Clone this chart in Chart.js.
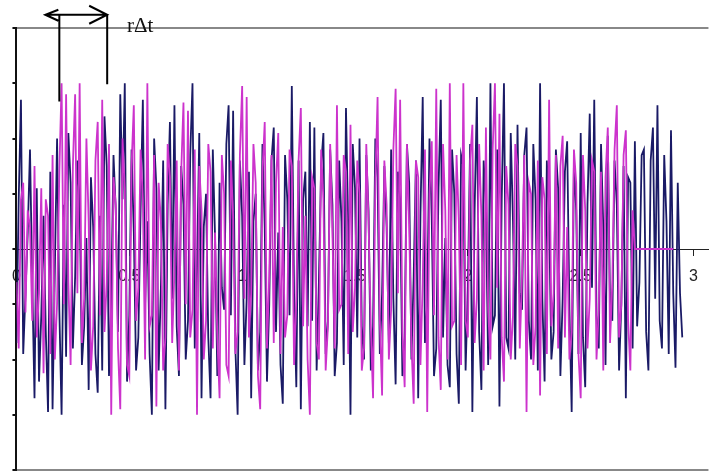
<!DOCTYPE html>
<html>
<head>
<meta charset="utf-8">
<script src="https://cdn.jsdelivr.net/npm/chart.js@4.4.0/dist/chart.umd.min.js"></script>
<style>
  body { margin: 0; background: #fff; }
  #wrap { width: 710px; height: 474px; }
</style>
</head>
<body>
<div id="wrap"><canvas id="signal_chart"></canvas></div>
<script>
// sample step of both signals (time axis)
const dt = 0.01;

// original signal (navy)
const navy_values = [
	-1.7, 0.9, 2.7, -1.9, -0.8, 0.3, 1.8, -0.6, -2.7, 1.1, -2.4, -1.2, 0.6, -1.5, -2.95, 1.4, -2.9, -0.4, 2.0, -1.1,
	-3.0, 0.8, -1.95, 2.1, 1.2, -1.8, -0.5, 1.6, 0.9, -2.1, -1.4, 0.2, -2.55, 1.3, 0.4, -1.9, -2.6, 0.6, -2.2, 2.4,
	1.5, -2.3, -0.9, 1.7, 0.7, -1.5, 2.8, 0.9, 3.0, -2.4, -1.2, 1.8, 0.3, -2.2, -1.6, 0.7, 2.7, -1.0, 0.5, -1.9,
	-3.0, 2.0, 1.1, -2.2, -0.7, 1.6, -2.9, 0.8, 2.3, -0.9, 2.6, -1.4, -2.3, 1.5, 0.8, -2.0, -1.3, 1.7, 3.0, -1.8,
	-0.4, 2.1, -2.7, 0.4, 1.0, -1.6, -2.7, 1.8, 0.2, -2.3, 1.2, -0.7, -1.1, 1.9, 2.6, -1.2, 2.5, -1.8, -3.0, 1.6,
	0.6, -2.1, -0.9, 1.4, -2.7, 0.5, 1.0, -2.2, -1.5, 1.9, 0.4, -2.4, -1.0, 1.6, 2.2, -1.5, 0.3, -2.1, -2.8, 1.7,
	0.9, -1.2, 2.95, -0.8, -2.5, 1.6, -2.9, 0.9, 1.4, -1.4, 2.3, -1.3, 2.2, -2.2, -0.6, 1.5, 2.1, -1.9, -1.3, 1.8,
	0.8, -2.3, -1.7, 1.6, 0.5, -2.1, 2.55, 0.4, -3.0, 1.9, 1.1, -1.6, 2.0, -1.4, -2.0, 1.7, 0.7, -2.2, -1.4, 2.0,
	1.3, -1.9, -0.8, 1.5, 0.4, -1.7, 1.8, -0.9, -2.45, 1.4, 0.9, -2.3, -1.6, 1.9, 1.2, -2.0, -0.5, 1.6, -2.7, 0.6,
	2.75, -1.7, -1.0, 2.0, 0.6, -2.3, -1.8, 1.1, 2.7, -1.6, 0.2, -2.1, -2.5, 1.8, 1.0, -1.9, -2.8, 1.7, 1.5, -2.2,
	-0.7, 1.9, -2.95, 0.7, 2.75, -1.5, -2.55, 1.6, 0.8, -2.1, 3.0, -1.4, -1.2, 1.8, -2.85, 0.9, 3.0, -1.6, -1.8, 2.1,
	0.5, -2.0, 2.25, -0.8, -1.1, 1.7, 2.2, -1.3, -2.0, 1.9, 0.9, -2.2, 3.0, -0.9, -2.4, 1.6, 0.6, -2.0, -1.5, 1.8,
	1.1, -2.3, -0.9, 1.4, 1.95, -1.1, -2.95, 1.6, 0.7, -1.9, 2.1, -1.6, -2.5, 0.8, 2.45, -0.7, 2.7, -1.2, -1.8, 1.9,
	0.4, -2.1, 2.05, -1.0, -1.3, 1.6, 0.8, -2.2, -1.0, 1.5, -2.7, 1.3, 1.2, -1.8, 1.95, -1.4, -0.6, 1.7, 1.8, -1.5,
	-2.2, 1.6, 2.2, -0.9, 2.6, -1.3, -1.8, 1.7, 0.5, -1.9, 2.15, -0.8, -2.15, 1.2, -0.8, -1.6
];

// shifted signal (magenta), flat after its last sample
const magenta_values = [
	-0.6, -1.8, 0.9, 1.2, -1.15, 0.7, 0.4, -1.3, 1.5, -1.6, -0.8, 1.1, -2.25, 0.9, 0.6, -1.9, 1.7, -2.0, -1.0, 1.4,
	3.0, -1.0, 2.8, -0.6, -2.1, 1.5, 2.8, -0.8, 3.0, -1.7, -0.9, 2.0, 0.5, -2.2, -1.4, 1.6, 2.3, -1.2, 2.7, -1.5,
	-0.6, 1.9, -3.0, 1.3, 0.8, -1.8, -2.9, 2.0, 1.1, -2.1, -2.3, 1.5, 2.6, -1.3, -0.7, 1.8, 0.9, -2.0, 3.0, -1.4,
	-1.2, 1.7, -2.85, 1.2, 0.5, -2.2, -1.6, 1.9, 1.3, -1.7, -0.4, 1.6, -2.2, 1.4, 2.65, -1.0, 2.5, -1.6, -1.1, 1.8,
	-3.0, 1.5, 0.7, -2.0, -1.3, 1.9, 1.4, -1.8, 0.3, -1.6, -2.7, 1.7, 1.0, -2.1, -2.3, 1.6, 0.6, -1.9, -1.5, 1.7,
	2.95, -0.9, 2.75, -1.6, -0.8, 1.9, 1.2, -2.3, -2.9, 1.4, 2.3, -1.8, -0.5, 1.7, -1.7, 1.2, 2.1, -1.9, 0.4, -1.6,
	-1.2, 1.8, 1.5, -2.1, -0.9, 1.6, 2.55, -1.4, 0.6, -2.0, -3.0, 1.3, 1.1, -1.7, -2.0, 1.8, 0.9, -2.2, -1.4, 1.9,
	0.3, -1.8, 2.6, -1.1, -1.0, 1.7, 1.4, -1.9, 2.25, -1.5, -0.7, 1.6, 1.0, -2.2, -1.8, 1.9, 0.5, -1.4, -2.7, 1.2,
	2.75, -1.3, -2.65, 1.6, 0.8, -2.0, -1.1, 1.8, 2.9, -0.8, 2.7, -1.5, -2.5, 1.9, 0.4, -1.7, -2.8, 1.6, 1.3, -2.1,
	-0.6, 1.8, -2.95, 1.0, 1.95, -1.2, 2.9, -1.6, -2.55, 1.9, 0.7, -2.0, 3.0, -1.4, -1.3, 1.7, 0.5, -2.1, 3.0, -1.3,
	-1.6, 1.6, 2.25, -1.7, -0.9, 1.9, 0.6, -2.2, 2.2, -1.1, -2.0, 1.8, 3.0, -0.7, 2.45, -1.6, -2.4, 1.5, 0.8, -2.0,
	-1.2, 1.9, 1.5, -1.8, -0.5, 1.7, -2.95, 1.2, 1.0, -2.1, -1.4, 1.6, -2.65, 1.3, 0.9, -1.9, 2.7, -1.4, -0.8, 1.7,
	-1.8, 1.5, 2.05, -1.6, 0.4, -2.0, -1.5, 1.8, 1.2, -1.9, -2.7, 1.7, 0.7, -1.8, -0.9, 1.6, 1.4, -2.0, -1.1, 1.4,
	-2.2, 1.3, 2.2, -1.7, -0.6, 1.8, 2.6, -1.6, -1.0, 1.7, 2.15, -1.3, -2.2, 0.7, 0, 0, 0, 0, 0, 0,
	0, 0, 0, 0, 0, 0, 0, 0, 0, 0, 0, 0
];

const x_ticks = [0, 0.5, 1, 1.5, 2, 2.5, 3];

// rΔt marker (time values)
const shift_arrow_from = 0.128;
const shift_from = 0.19;
const shift_to = 0.402;
const shift_label = "rΔt";

function toPoints(values) {
	return values.map((v, i) => ({ x: i * dt, y: v }));
}

const shiftMarker = {
	id: "shiftMarker",
	afterDraw(chart) {
		const { ctx, scales } = chart;
		const xs = scales.x, ys = scales.y;
		const xa = xs.getPixelForValue(shift_arrow_from);
		const x1 = xs.getPixelForValue(shift_from);
		const x2 = xs.getPixelForValue(shift_to);
		const yArrow = ys.getPixelForValue(4.24);
		ctx.save();
		ctx.strokeStyle = "#000";
		ctx.lineWidth = 2;
		ctx.beginPath();
		// brackets
		ctx.moveTo(x1, yArrow);
		ctx.lineTo(x1, ys.getPixelForValue(2.67));
		ctx.moveTo(x2, yArrow);
		ctx.lineTo(x2, ys.getPixelForValue(2.98));
		// arrow shaft and heads
		ctx.moveTo(xa, yArrow);
		ctx.lineTo(x2, yArrow);
		ctx.moveTo(xa + 13, yArrow - 5);
		ctx.lineTo(xa, yArrow);
		ctx.lineTo(xa + 13, yArrow + 6);
		ctx.moveTo(x2 - 18, yArrow - 9);
		ctx.lineTo(x2, yArrow);
		ctx.lineTo(x2 - 18, yArrow + 9);
		ctx.stroke();
		ctx.fillStyle = "#111";
		ctx.font = '21px "Liberation Serif"';
		ctx.textBaseline = "alphabetic";
		ctx.fillText(shift_label, xs.getPixelForValue(0.49), ys.getPixelForValue(3.92));
		ctx.restore();
	},
};

const ctx = document.getElementById("signal_chart").getContext("2d");
new Chart(ctx, {
	type: "line",
	data: {
		datasets: [
			{
				label: "shifted",
				data: toPoints(magenta_values),
				borderColor: "#cc33cc",
				borderWidth: 1.8,
				pointRadius: 0,
				tension: 0,
			},
			{
				label: "signal",
				data: toPoints(navy_values),
				borderColor: "#1a1a66",
				borderWidth: 1.8,
				pointRadius: 0,
				tension: 0,
			},
		],
	},
	options: {
		responsive: true,
		maintainAspectRatio: false,
		animation: false,
		layout: { padding: { left: 12, top: 28, right: 0, bottom: 4 } },
		plugins: { legend: { display: false }, tooltip: { enabled: false } },
		scales: {
			x: {
				type: "linear",
				position: { y: 0 },
				min: 0,
				max: 3.066,
				afterBuildTicks: (scale) => {
					scale.ticks = x_ticks.map((v) => ({ value: v }));
				},
				ticks: {
					includeBounds: false,
					color: "#222",
					padding: 12,
					font: { family: "Liberation Sans", size: 16 },
					callback: (v) => String(v),
				},
				grid: { drawOnChartArea: false, tickLength: 6, tickColor: "#222" },
				border: { color: "#222", width: 1 },
			},
			y: {
				min: -4,
				max: 4,
				ticks: { stepSize: 1, display: false },
				grid: {
					color: (c) => (c.tick && Math.abs(c.tick.value) === 4 ? "#888" : "rgba(0,0,0,0)"),
					lineWidth: 2,
					tickLength: 4,
					tickColor: "#111",
				},
				border: { color: "#111", width: 2 },
			},
		},
	},
	plugins: [shiftMarker],
});
</script>
</body>
</html>
